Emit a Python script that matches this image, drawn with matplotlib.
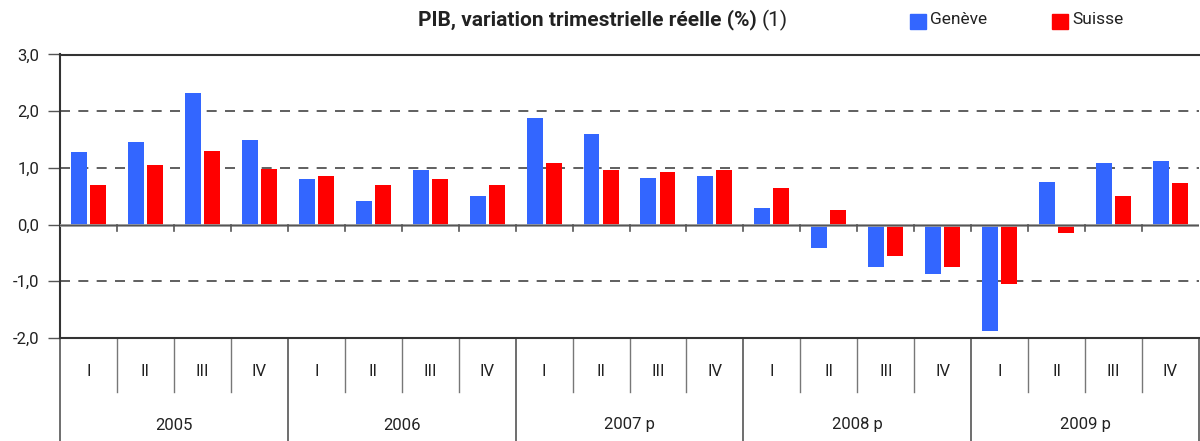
import matplotlib
matplotlib.use("Agg")
import matplotlib.pyplot as plt
from matplotlib.patches import Rectangle
from matplotlib import transforms
import numpy as np

plt.rcParams['font.family'] = ['Liberation Sans Narrow', 'Roboto', 'DejaVu Sans']

quarters = ["I", "II", "III", "IV"] * 5
years = ["2005", "2006", "2007 p", "2008 p", "2009 p"]
geneve = [1.28, 1.45, 2.32, 1.49, 0.80, 0.41, 0.96, 0.50, 1.88, 1.59,
          0.82, 0.85, 0.29, -0.42, -0.74, -0.88, -1.88, 0.76, 1.08, 1.12]
suisse = [0.69, 1.05, 1.29, 0.98, 0.85, 0.69, 0.80, 0.69, 1.08, 0.96,
          0.92, 0.96, 0.64, 0.25, -0.56, -0.74, -1.04, -0.14, 0.50, 0.73]
yticks = [-2, -1, 0, 1, 2, 3]
ytick_labels = ["-2,0", "-1,0", "0,0", "1,0", "2,0", "3,0"]

W, H = 1200, 441
fig = plt.figure(figsize=(W / 100, H / 100), dpi=100)
left, right, top, bottom = 60, 1199, 54.5, 338
ax = fig.add_axes([left / W, (H - bottom) / H, (right - left) / W, (bottom - top) / H])

x = np.arange(len(geneve))
bw = 0.28
off = 0.167
ax.bar(x - off, geneve, width=bw, color="#3366FF", zorder=3)
ax.bar(x + off, suisse, width=bw, color="#FF0000", zorder=3)

ax.set_xlim(-0.5, len(geneve) - 0.5)
ax.set_ylim(-2, 3)

# gridlines
for g in [-1, 1, 2]:
    ax.axhline(g, color="#444444", lw=1.2, ls=(0, (6, 5)), zorder=1)
# zero line
ax.axhline(0, color="#999999", lw=2, zorder=4)
ax.axhline(0, color="#555555", lw=0.8, zorder=4)
# small ticks at category boundaries on zero line
for b in np.arange(0.5, len(geneve) - 1, 1.0):
    ax.plot([b, b], [0, -0.12], color="#555555", lw=1.2, zorder=4)

for s in ["left", "top", "bottom"]:
    ax.spines[s].set_color("#333333")
    ax.spines[s].set_linewidth(1.5)
ax.spines["right"].set_visible(False)

ax.set_yticks(yticks)
ax.set_yticklabels(ytick_labels, fontsize=12, color="#222222")
ax.tick_params(axis="y", length=9, width=1, color="#555555", pad=6)
ax.set_xticks([])

trans = transforms.blended_transform_factory(ax.transData, ax.transAxes)
ah = bottom - top
q_lab_y = -(372 - bottom) / ah
y_lab_y = -(425 - bottom) / ah
q_sep_y = -(392 - bottom) / ah
y_sep_y = -(441 - bottom) / ah
for i, q in enumerate(quarters):
    ax.text(i, q_lab_y, q, transform=trans, ha="center", va="center",
            fontsize=12, color="#222222")
for j, yr in enumerate(years):
    ax.text(4 * j + 1.5, y_lab_y, yr, transform=trans, ha="center", va="center",
            fontsize=12, color="#222222")
for b in range(0, len(geneve) + 1):
    xb = b - 0.5
    if b % 4 == 0:
        ax.plot([xb, xb], [0, y_sep_y], transform=trans, color="#555555",
                lw=1.2, clip_on=False)
    else:
        ax.plot([xb, xb], [0, q_sep_y], transform=trans, color="#777777",
                lw=1.0, clip_on=False)

# title
fig.text(757 / W, 1 - 20 / H, "PIB, variation trimestrielle réelle (%)",
         ha="right", va="center", fontsize=15, fontweight="bold", color="#222222")
fig.text(762 / W, 1 - 20 / H, "(1)", ha="left", va="center",
         fontsize=15, color="#222222")

# legend
for x0, col, lab in [(910, "#3366FF", "Genève"), (1052, "#FF0000", "Suisse")]:
    fig.patches.append(Rectangle((x0 / W, 1 - 29 / H), 16 / W, 15 / H,
                                 transform=fig.transFigure, color=col))
    fig.text((x0 + 20) / W, 1 - 20 / H, lab, ha="left", va="center",
             fontsize=12.5, color="#222222")

fig.savefig("out.png", dpi=100)
